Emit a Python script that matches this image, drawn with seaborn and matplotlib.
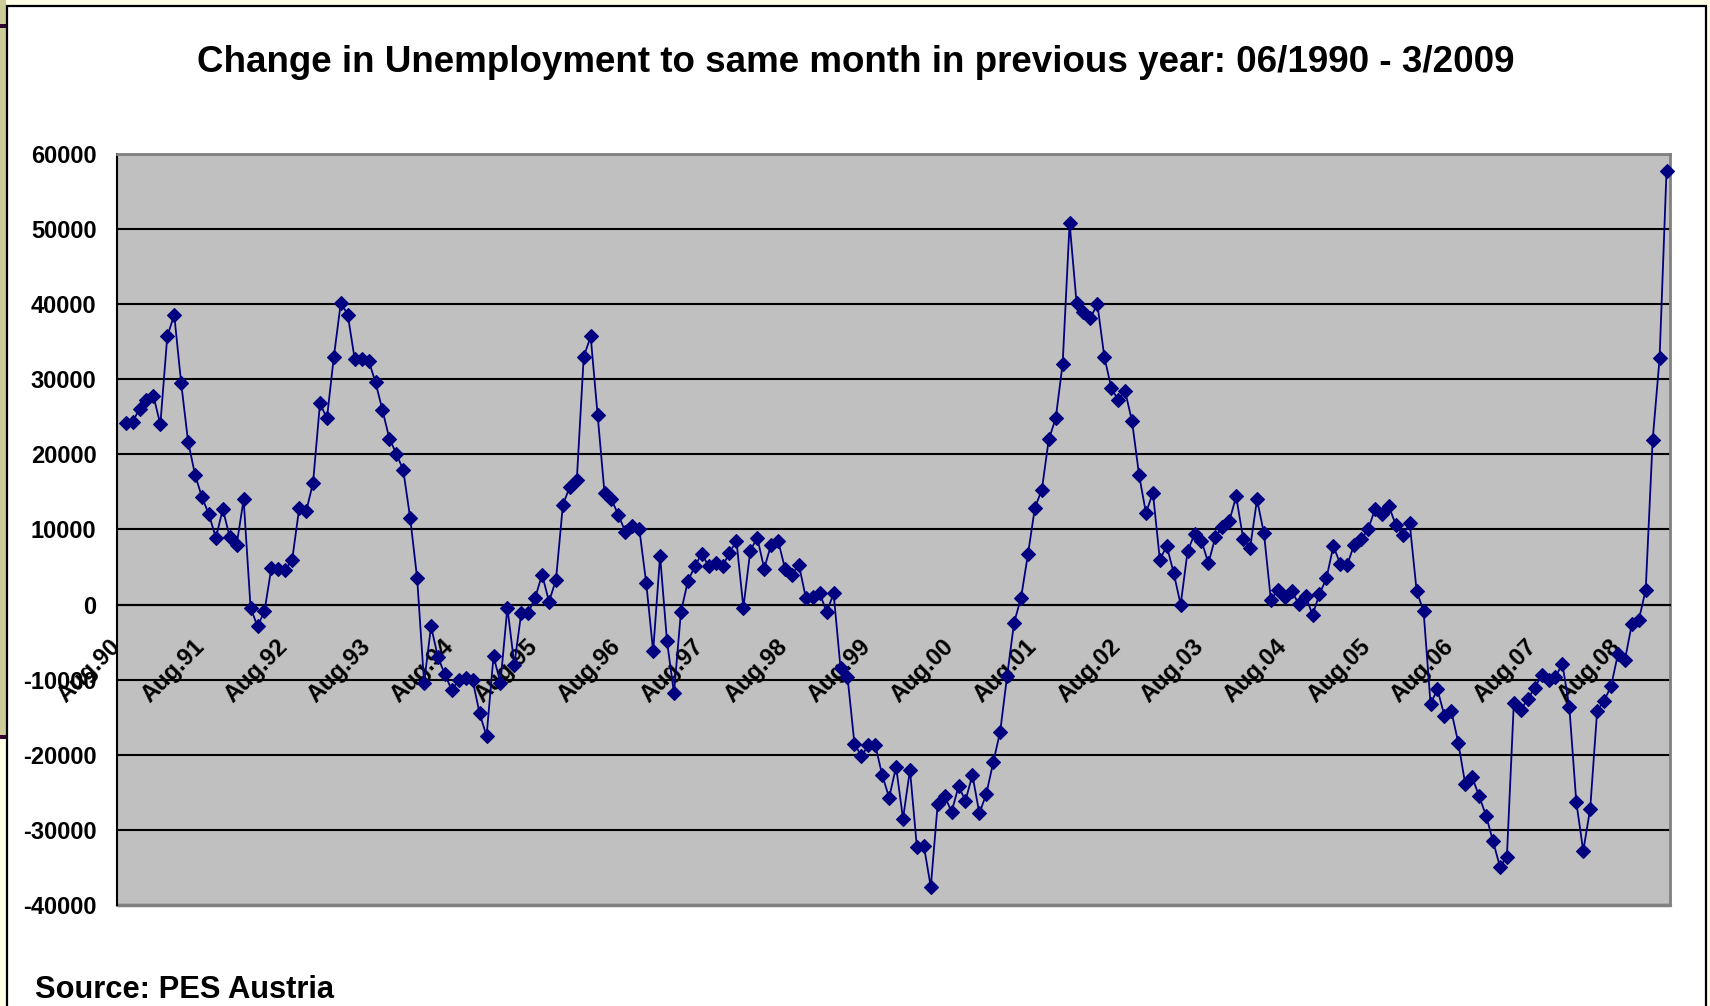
import matplotlib
matplotlib.use("Agg")
import matplotlib.pyplot as plt
import seaborn as sns
import pandas as pd
from matplotlib.patches import Rectangle

# ---------------- data ----------------
values = [
    24200, 24300, 26100, 27300, 27800, 24000, 35700, 38600, 29500, 21700,
    17300, 14300, 12000, 8900, 12700, 9000, 8000, 14000, -400, -2900,
    -900, 4900, 4700, 4600, 6000, 12800, 12400, 16200, 26800, 24800,
    33000, 40200, 38600, 32700, 32700, 32500, 29600, 25900, 22100, 20100,
    17900, 11500, 3500, -10400, -2900, -7000, -9300, -11400, -10000, -9800,
    -10100, -14500, -17500, -6900, -10400, -400, -8000, -1100, -1100, 900,
    4000, 400, 3300, 13300, 15700, 16600, 33000, 35700, 25200, 14800,
    14000, 11900, 9700, 10400, 10100, 2900, -6200, 6500, -4900, -11800,
    -1000, 3100, 5100, 6800, 5100, 5600, 5100, 6900, 8500, -400,
    7200, 8900, 4800, 8000, 8500, 4800, 4000, 5300, 900, 1000,
    1500, -1000, 1500, -8500, -9600, -18500, -20200, -18700, -18700, -22700,
    -25700, -21600, -28500, -22000, -32300, -32100, -37600, -26500, -25500, -27600,
    -24200, -26100, -22700, -27800, -25200, -21000, -16900, -9500, -2400, 900,
    6700, 12900, 15300, 22000, 24800, 32100, 50800, 40200, 38900, 38200,
    40000, 33000, 28900, 27200, 28400, 24400, 17300, 12200, 14900, 6000,
    7800, 4200, 0, 7100, 9400, 8500, 5500, 9000, 10300, 11100,
    14400, 8800, 7500, 14000, 9500, 600, 2000, 1000, 1800, 100,
    1200, -1400, 1400, 3500, 7800, 5400, 5300, 8000, 8700, 10000,
    12700, 12100, 13100, 10600, 9300, 10800, 1800, -900, -13200, -11300,
    -14800, -14200, -18400, -23900, -23000, -25500, -28100, -31500, -34900, -33600,
    -13100, -14000, -12600, -11100, -9400, -10100, -9600, -7900, -13700, -26300,
    -32800, -27200, -14200, -12800, -10900, -6600, -7400, -2600, -2100, 2000,
    21900, 32800, 57800,
]
tick_labels = ["Aug.90", "Aug.91", "Aug.92", "Aug.93", "Aug.94", "Aug.95",
               "Aug.96", "Aug.97", "Aug.98", "Aug.99", "Aug.00", "Aug.01",
               "Aug.02", "Aug.03", "Aug.04", "Aug.05", "Aug.06", "Aug.07",
               "Aug.08"]
y_ticks = [-40000, -30000, -20000, -10000, 0, 10000, 20000, 30000, 40000,
           50000, 60000]
title = "Change in Unemployment to same month in previous year: 06/1990 - 3/2009"
source = "Source: PES Austria"
months_per_label = 12

# ---------------- style ----------------
sns.set_style("white")
plt.rcParams["font.family"] = ["Liberation Sans", "DejaVu Sans"]
plt.rcParams["font.weight"] = "bold"

W, H = 1710, 1006
def fx(px):
    return px / W
def fy(py):
    return 1 - py / H

fig = plt.figure(figsize=(W / 100, H / 100), dpi=100)
fig.patch.set_facecolor("#FFFFE6")

# decorative frame (behind everything)
fig.patches.append(Rectangle((0, fy(736)), fx(6), 736 / H, transform=fig.transFigure,
                             facecolor="#CCCC99", edgecolor="none", zorder=-10))
fig.patches.append(Rectangle((0, fy(28)), fx(7), 4 / H, transform=fig.transFigure,
                             facecolor="#330033", edgecolor="none", zorder=-10))
fig.patches.append(Rectangle((0, fy(739)), fx(7), 4 / H, transform=fig.transFigure,
                             facecolor="#330033", edgecolor="none", zorder=-10))
fig.patches.append(Rectangle((fx(7), fy(1020)), fx(1706 - 7), (1020 - 6) / H,
                             transform=fig.transFigure, facecolor="white",
                             edgecolor="black", linewidth=1.6, zorder=-9))

ax = fig.add_axes([fx(117.3), fy(905), fx(1670 - 117.3), (905 - 154) / H])
ax.set_zorder(5)
ax.set_facecolor("#C0C0C0")

df = pd.DataFrame({"month": range(len(values)), "change": values})
sns.lineplot(data=df, x="month", y="change", ax=ax, color="#000080",
             linewidth=1.3, marker="D", markersize=7,
             markeredgecolor="#000080", markeredgewidth=0.8,
             clip_on=False, zorder=3)

# spines first (moving a spine resets the ticks)
ax.spines["bottom"].set_position(("data", 0))
ax.spines["bottom"].set_color("black")
ax.spines["bottom"].set_linewidth(1.5)
ax.spines["left"].set_color("black")
ax.spines["left"].set_linewidth(1.5)
for s in ["top", "right"]:
    ax.spines[s].set_visible(True)
    ax.spines[s].set_color("#808080")
    ax.spines[s].set_linewidth(2)

n = len(values)
ax.set_xlim(-0.5, n - 0.5)
ax.set_ylim(y_ticks[0], y_ticks[-1])
ax.set_xlabel("")
ax.set_ylabel("")

ax.set_yticks(y_ticks)
ax.set_yticklabels([str(v) for v in y_ticks])
ax.tick_params(axis="y", direction="out", length=6, width=1.4, pad=9,
               color="black", labelcolor="black", labelsize=17)

bounds = [months_per_label * k - 0.5 for k in range(len(tick_labels))]
ax.set_xticks([b - 0.7 for b in bounds])
ax.set_xticklabels(tick_labels)
ax.set_xticks(bounds[1:], minor=True)
ax.tick_params(axis="x", which="major", length=0, pad=28, labelcolor="black",
               labelsize=17, labelrotation=45)
for lab in ax.get_xticklabels():
    lab.set_ha("right")
    lab.set_va("center")
    lab.set_rotation_mode("anchor")
    lab.set_fontweight("bold")
ax.tick_params(axis="x", which="minor", direction="out", length=5, width=1.5,
               color="black")

ax.grid(axis="y", color="black", linewidth=1.5)
ax.grid(axis="x", visible=False)
ax.set_axisbelow(True)

ax.plot([0, 1], [0, 0], transform=ax.transAxes, color="#808080", lw=2.5,
        clip_on=False, zorder=2.5)

fig.text(fx(856), fy(71.7), title, ha="center", va="baseline", fontsize=26.5,
         fontweight="bold", color="black")
fig.text(fx(35), fy(998), source, ha="left", va="baseline", fontsize=22.2,
         fontweight="bold", color="black")

fig.savefig("out.png", dpi=100, facecolor=fig.get_facecolor())
